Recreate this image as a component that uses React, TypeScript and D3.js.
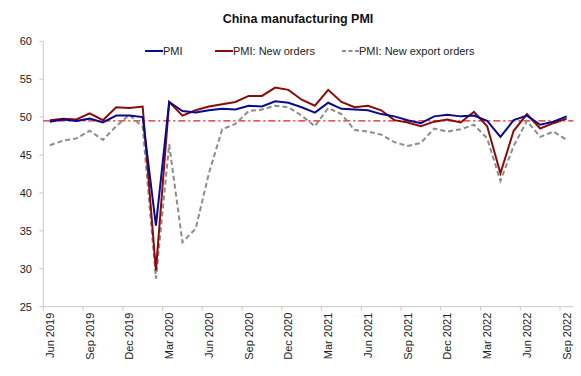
import React from "react";
import * as d3 from "d3";

const months = [
  "Jun 2019","Jul 2019","Aug 2019","Sep 2019","Oct 2019","Nov 2019","Dec 2019",
  "Jan 2020","Feb 2020","Mar 2020","Apr 2020","May 2020","Jun 2020","Jul 2020","Aug 2020","Sep 2020","Oct 2020","Nov 2020","Dec 2020",
  "Jan 2021","Feb 2021","Mar 2021","Apr 2021","May 2021","Jun 2021","Jul 2021","Aug 2021","Sep 2021","Oct 2021","Nov 2021","Dec 2021",
  "Jan 2022","Feb 2022","Mar 2022","Apr 2022","May 2022","Jun 2022","Jul 2022","Aug 2022","Sep 2022",
];

const pmi = [
  49.4, 49.7, 49.5, 49.8, 49.3, 50.2, 50.2,
  50.0, 35.7, 52.0, 50.8, 50.6, 50.9, 51.1, 51.0, 51.5, 51.4, 52.1, 51.9,
  51.3, 50.6, 51.9, 51.1, 51.0, 50.9, 50.4, 50.1, 49.6, 49.2, 50.1, 50.3,
  50.1, 50.2, 49.5, 47.4, 49.6, 50.2, 49.0, 49.4, 50.1,
];

const newOrders = [
  49.6, 49.8, 49.7, 50.5, 49.6, 51.3, 51.2,
  51.4, 29.8, 52.0, 50.2, 50.9, 51.4, 51.7, 52.0, 52.8, 52.8, 53.9, 53.6,
  52.3, 51.5, 53.6, 52.0, 51.3, 51.5, 50.9, 49.6, 49.3, 48.8, 49.4, 49.7,
  49.3, 50.7, 48.8, 42.6, 48.2, 50.4, 48.5, 49.2, 49.8,
];

const newExportOrders = [
  46.3, 46.9, 47.2, 48.2, 47.0, 48.8, 50.3,
  48.7, 28.7, 46.4, 33.5, 35.3, 42.6, 48.4, 49.1, 50.8, 51.0, 51.5, 51.3,
  50.2, 48.8, 51.2, 50.4, 48.3, 48.1, 47.7, 46.7, 46.2, 46.6, 48.5, 48.1,
  48.4, 49.0, 47.2, 41.6, 46.2, 49.5, 47.4, 48.1, 47.0,
];

const yTicks = [25, 30, 35, 40, 45, 50, 55, 60];
const referenceLevel = 49.5;
const title = "China manufacturing PMI";

const W = 581;
const H = 376;
const left = 43.3;
const right = 573.3;
const top = 41.3;
const bottom = 306.7;
const font = "'Liberation Sans', Arial, sans-serif";

export default function App() {
  const x = d3.scaleLinear().domain([0, months.length]).range([left, right]);
  const y = d3.scaleLinear().domain([25, 60]).range([bottom, top]);
  const line = d3
    .line<number>()
    .x((_, i) => x(i + 0.5))
    .y((d) => y(d));

  const tickIdx = months.map((_, i) => i).filter((i) => i % 3 === 0);

  return (
    <svg
      width={W}
      height={H}
      style={{ position: "absolute", left: 0, top: 0, background: "#fff" }}
      fontFamily={font}
    >
      <text x={298} y={23} textAnchor="middle" fontSize={12.5} fontWeight="bold" fill="#111">
        {title}
      </text>

      {/* axes */}
      <line x1={left} x2={left} y1={top} y2={bottom} stroke="#c8c8c8" strokeWidth={1} />
      <line x1={left} x2={right} y1={bottom} y2={bottom} stroke="#c8c8c8" strokeWidth={1} />
      {yTicks.map((t) => (
        <g key={t}>
          <line x1={left - 4} x2={left} y1={y(t)} y2={y(t)} stroke="#c8c8c8" />
          <text x={32} y={y(t)} dy="0.35em" textAnchor="end" fontSize={11} fill="#222">
            {t}
          </text>
        </g>
      ))}
      {tickIdx.map((i) => (
        <g key={i}>
          <line x1={x(i)} x2={x(i)} y1={bottom} y2={bottom + 4} stroke="#c8c8c8" />
          <text
            transform={`translate(${x(i + 0.5) + 4},${bottom + 6}) rotate(-90)`}
            textAnchor="end"
            fontSize={11}
            fill="#222"
          >
            {months[i]}
          </text>
        </g>
      ))}

      {/* reference line */}
      <line
        x1={left}
        x2={right}
        y1={y(referenceLevel)}
        y2={y(referenceLevel)}
        stroke="#e0201a"
        strokeWidth={1.3}
        strokeDasharray="7,3,2,3"
      />

      <path d={line(newExportOrders) || ""} fill="none" stroke="#8c8c8c" strokeWidth={2} strokeDasharray="5,3" />
      <path d={line(newOrders) || ""} fill="none" stroke="#8b0a0a" strokeWidth={2} />
      <path d={line(pmi) || ""} fill="none" stroke="#0a0a8c" strokeWidth={2} />

      {/* legend */}
      <g fontSize={11} fill="#222">
        <line x1={145} x2={163} y1={51} y2={51} stroke="#0a0a8c" strokeWidth={2} />
        <text x={163} y={51} dy="0.35em">PMI</text>
        <line x1={215} x2={233} y1={51} y2={51} stroke="#8b0a0a" strokeWidth={2} />
        <text x={233} y={51} dy="0.35em">PMI: New orders</text>
        <line x1={342} x2={359} y1={51} y2={51} stroke="#8c8c8c" strokeWidth={2} strokeDasharray="4,2.5" />
        <text x={359} y={51} dy="0.35em">PMI: New export orders</text>
      </g>
    </svg>
  );
}
